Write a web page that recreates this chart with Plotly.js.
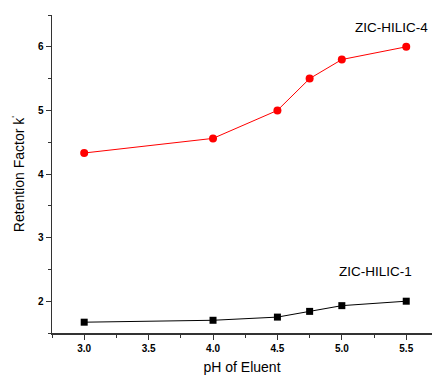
<!DOCTYPE html>
<html><head><meta charset="utf-8">
<script src="https://cdn.plot.ly/plotly-3.0.1.min.js"></script>
<style>html,body{margin:0;padding:0;overflow:hidden;background:#fff}</style>
</head><body><div id="chart" style="width:432px;height:377px"></div>
<script>
const pH = [3.0, 4.0, 4.5, 4.75, 5.0, 5.5];
const hilic4 = [4.33, 4.56, 5.0, 5.5, 5.8, 6.0];
const hilic1 = [1.67, 1.70, 1.75, 1.84, 1.93, 2.0];
const xTicks = [3.0, 3.5, 4.0, 4.5, 5.0, 5.5];
const xTickText = ['3.0', '3.5', '4.0', '4.5', '5.0', '5.5'];
const yTicks = [2, 3, 4, 5, 6];

const traces = [
  {x: pH, y: hilic4, mode: 'lines+markers', name: 'ZIC-HILIC-4',
   line: {color: '#ff0000', width: 1}, marker: {color: '#ff0000', size: 8, symbol: 'circle'}},
  {x: pH, y: hilic1, mode: 'lines+markers', name: 'ZIC-HILIC-1',
   line: {color: '#000000', width: 1}, marker: {color: '#000000', size: 7, symbol: 'square'}}
];
const layout = {
  width: 432, height: 377,
  margin: {l: 52, r: 0, t: 15, b: 44},
  paper_bgcolor: '#fff', plot_bgcolor: '#fff',
  showlegend: false,
  font: {family: 'Liberation Sans, Arial, sans-serif', color: '#000'},
  xaxis: {
    range: [2.75, 5.7], tickvals: xTicks, ticktext: xTickText,
    ticks: 'outside', ticklen: 5, tickwidth: 1, tickcolor: '#333',
    minor: {dtick: 0.5, tick0: 3.25, ticks: 'outside', ticklen: 3, tickcolor: '#333', showgrid: false},
    showline: true, linecolor: '#333', linewidth: 1.5, showgrid: false, zeroline: false,
    tickfont: {size: 10, family: 'Liberation Sans, Arial, sans-serif', weight: 'bold'},
    title: {text: 'pH of Eluent', font: {size: 14}, standoff: 9}
  },
  yaxis: {
    range: [1.5, 6.5], tickvals: yTicks,
    ticks: 'outside', ticklen: 5, tickwidth: 1, tickcolor: '#333',
    minor: {dtick: 1, tick0: 1.5, ticks: 'outside', ticklen: 3, tickcolor: '#333', showgrid: false},
    showline: true, linecolor: '#333', linewidth: 1.5, showgrid: false, zeroline: false,
    tickfont: {size: 10, family: 'Liberation Sans, Arial, sans-serif', weight: 'bold'},
    title: {text: 'Retention Factor k<sup>\u02b9</sup>', font: {size: 14}, standoff: 10}
  },
  annotations: [
    {x: 0.995, y: 6.3, xref: 'paper', yref: 'y', text: 'ZIC-HILIC-4', showarrow: false,
     font: {size: 13.5}, xanchor: 'right'},
    {x: 5.26, y: 2.47, xref: 'x', yref: 'y', text: 'ZIC-HILIC-1', showarrow: false,
     font: {size: 13.5}, xanchor: 'center'}
  ]
};
Plotly.newPlot('chart', traces, layout, {displayModeBar: false, staticPlot: true});
</script></body></html>
